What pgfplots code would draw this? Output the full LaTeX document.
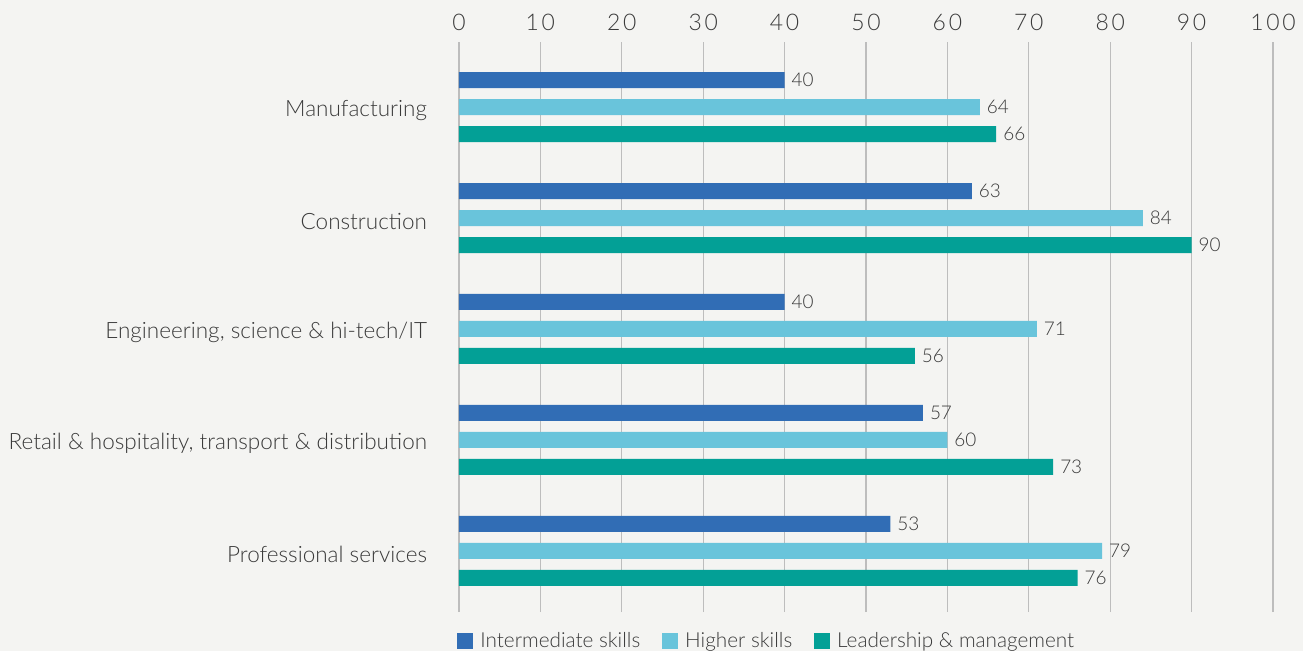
\documentclass[border=0pt]{standalone}
\usepackage{pgfplots}
\pgfplotsset{compat=1.18}
\usepackage{fontspec}
\setmainfont{Lato}[UprightFont=* Light]
\definecolor{bgc}{HTML}{F4F4F2}
\definecolor{cblue}{HTML}{316DB5}
\definecolor{clight}{HTML}{69C4DB}
\definecolor{cteal}{HTML}{03A096}
\definecolor{txt}{HTML}{3A3A3A}
\definecolor{gridc}{HTML}{BDBDBD}
\begin{document}
\begin{tikzpicture}
\fill[bgc] (-229.5bp,-19.5bp) rectangle (422bp,306bp);
\begin{axis}[
  at={(0,0)}, anchor=south west,
  scale only axis,
  width=407bp, height=285bp,
  xbar, bar width=8bp,
  xmin=0, xmax=100,
  ymin=-0.55, ymax=4.586,
  xtick={0,10,...,100},
  xticklabel pos=upper,
  xmajorgrids,
  major grid style={gridc, line width=0.6pt},
  axis line style={draw=none},
  major tick length=0pt,
  ytick={0,1,2,3,4},
  yticklabels={Professional services,{Retail \& hospitality, transport \& distribution},{Engineering, science \& hi-tech/IT},Construction,Manufacturing},
  yticklabel style={font=\fontsize{11.3}{13}\selectfont, text=txt, xshift=-12.5bp, yshift=-1.5bp},
  xticklabel style={font=\fontsize{11.5}{13}\selectfont\addfontfeature{LetterSpace=12}, text=txt, yshift=2bp},
  /pgf/number format/assume math mode=true,
  nodes near coords,
  nodes near coords style={font=\fontsize{9.5}{11}\selectfont, text=txt},
  every axis plot/.append style={draw=none},
  legend columns=3,
  legend style={at={(-4bp,-14.5bp)}, anchor=west, draw=none, fill=none,
    font=\fontsize{10.4}{12}\selectfont, text=txt,
    /tikz/every even column/.append style={column sep=9bp}},
  legend image code/.code={\fill[#1] (0bp,-4bp) rectangle (8bp,4bp); \path (9.5bp,0bp);},
  clip=false,
]
\addplot[fill=cblue, bar shift=13.5bp] coordinates {(40,4) (63,3) (40,2) (57,1) (53,0)};
\addplot[fill=clight, bar shift=0bp] coordinates {(64,4) (84,3) (71,2) (60,1) (79,0)};
\addplot[fill=cteal, bar shift=-13.5bp] coordinates {(66,4) (90,3) (56,2) (73,1) (76,0)};
\legend{Intermediate skills, Higher skills, Leadership \& management}
\end{axis}
\pgfresetboundingbox
\useasboundingbox (-229.5bp,-19.5bp) rectangle (422bp,306bp);
\end{tikzpicture}
\end{document}
